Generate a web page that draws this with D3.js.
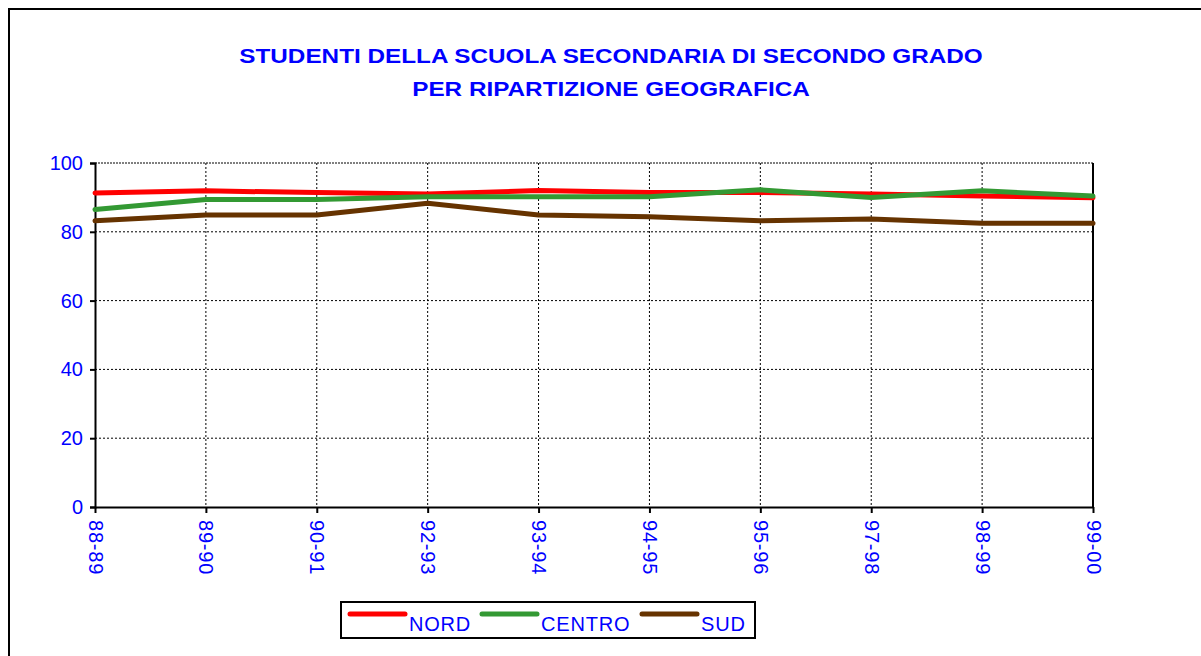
<!DOCTYPE html>
<html>
<head>
<meta charset="utf-8">
<script src="https://cdn.jsdelivr.net/npm/d3@7"></script>
<style>
  body { margin: 0; background: #fff; }
  svg { display: block; font-family: Arial, "Liberation Sans", sans-serif; }
</style>
</head>
<body>
<div class="chart"></div>
<script>
// data
const years = ['88-89', '89-90', '90-91', '92-93', '93-94', '94-95', '95-96', '97-98', '98-99', '99-00'];
const nord = [91.3, 91.9, 91.4, 91.0, 92.0, 91.4, 91.4, 91.0, 90.4, 89.9];
const centro = [86.5, 89.4, 89.4, 90.2, 90.2, 90.2, 92.2, 90.0, 91.9, 90.4];
const sud = [83.2, 84.9, 84.9, 88.3, 84.9, 84.4, 83.2, 83.7, 82.5, 82.5];
const yTicks = [0, 20, 40, 60, 80, 100];

const series = [
    {name: 'NORD', values: nord, color: '#ff0000'},
    {name: 'CENTRO', values: centro, color: '#339933'},
    {name: 'SUD', values: sud, color: '#663300'}
];

const width = 1201;
const height = 656;
const blue = '#0000ff';

const svg = d3.select('.chart')
    .append('svg')
    .attr('width', width)
    .attr('height', height);

// outer frame, runs off the right and bottom edges
svg.append('rect')
    .attr('x', 9).attr('y', 9)
    .attr('width', 1300).attr('height', 800)
    .attr('fill', 'none')
    .attr('stroke', '#000')
    .attr('stroke-width', 2);

// title (glyphs are wide in the original, so stretch horizontally)
const title = svg.append('text')
    .attr('transform', 'translate(611,0) scale(1.185,1)')
    .attr('text-anchor', 'middle')
    .attr('fill', blue)
    .attr('font-weight', 'bold')
    .attr('font-size', 20.5);
title.append('tspan').attr('x', 0).attr('y', 63)
    .text('STUDENTI DELLA SCUOLA SECONDARIA DI SECONDO GRADO');
title.append('tspan').attr('x', 0).attr('y', 96)
    .text('PER RIPARTIZIONE GEOGRAFICA');

// scales
const x = d3.scalePoint()
    .domain(years)
    .range([95, 1093]);
const y = d3.scaleLinear()
    .domain([0, 100])
    .range([507, 163]);

// grid
svg.append('g')
    .selectAll('line')
    .data(yTicks.filter(d => d > 0))
    .enter()
    .append('line')
    .attr('x1', 95).attr('x2', 1093)
    .attr('y1', d => y(d)).attr('y2', d => y(d))
    .attr('stroke', '#000')
    .attr('stroke-width', 1)
    .attr('stroke-dasharray', d => d === 100 ? '2,1' : '2,2');

svg.append('g')
    .selectAll('line')
    .data(years.slice(1, -1))
    .enter()
    .append('line')
    .attr('x1', d => x(d)).attr('x2', d => x(d))
    .attr('y1', 163).attr('y2', 507)
    .attr('stroke', '#000')
    .attr('stroke-width', 1)
    .attr('stroke-dasharray', '2,2');

// right border of the plot
svg.append('line')
    .attr('x1', 1093).attr('x2', 1093)
    .attr('y1', 163).attr('y2', 507)
    .attr('stroke', '#000')
    .attr('stroke-width', 2);

// axes
const yAxis = svg.append('g')
    .attr('transform', 'translate(95,0)')
    .call(d3.axisLeft(y).tickValues(yTicks).tickSize(5).tickPadding(7));
const xAxis = svg.append('g')
    .attr('transform', 'translate(0,507)')
    .call(d3.axisBottom(x).tickSize(6).tickSizeOuter(0));

[yAxis, xAxis].forEach(g => {
    g.select('.domain').attr('stroke', '#000').attr('stroke-width', 2);
    g.selectAll('.tick line').attr('stroke', '#000').attr('stroke-width', 2);
    g.selectAll('text').attr('fill', blue).attr('font-size', 20)
        .attr('font-family', 'Arial, "Liberation Sans", sans-serif');
});

xAxis.selectAll('text')
    .attr('transform', 'rotate(90)')
    .attr('text-anchor', 'start')
    .attr('letter-spacing', 0.8)
    .attr('x', 13)
    .attr('y', 0)
    .attr('dy', '0.35em');

// lines
const line = d3.line()
    .x((d, i) => x(years[i]))
    .y(d => y(d));

svg.append('g')
    .selectAll('path')
    .data(series)
    .enter()
    .append('path')
    .attr('d', d => line(d.values))
    .attr('fill', 'none')
    .attr('stroke', d => d.color)
    .attr('stroke-width', 5)
    .attr('stroke-linejoin', 'round')
    .attr('stroke-linecap', 'round');

// legend
const legend = svg.append('g');
legend.append('rect')
    .attr('x', 341).attr('y', 602)
    .attr('width', 414).attr('height', 36)
    .attr('fill', '#fff')
    .attr('stroke', '#000')
    .attr('stroke-width', 2);

const legendX = [350, 482, 642];
const items = legend.selectAll('g.item')
    .data(series)
    .enter()
    .append('g')
    .attr('class', 'item')
    .attr('transform', (d, i) => `translate(${legendX[i]},0)`);
items.append('line')
    .attr('x1', 0).attr('x2', 55)
    .attr('y1', 614).attr('y2', 614)
    .attr('stroke', d => d.color)
    .attr('stroke-width', 5)
    .attr('stroke-linecap', 'round');
items.append('text')
    .attr('x', 59).attr('y', 631)
    .attr('fill', blue)
    .attr('font-size', 20)
    .attr('letter-spacing', 0.8)
    .text(d => d.name);
</script>
</body>
</html>
